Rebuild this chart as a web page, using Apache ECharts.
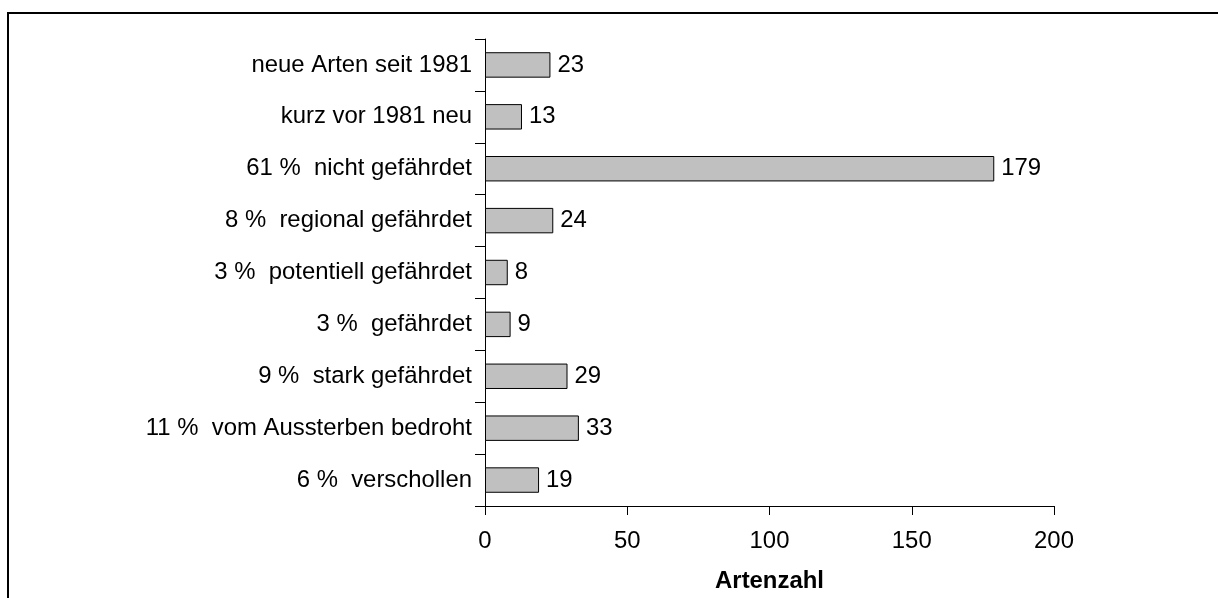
<!DOCTYPE html>
<html>
<head>
<meta charset="utf-8">
<script src="https://cdn.jsdelivr.net/npm/echarts@6/dist/echarts.min.js"></script>
<style>
  html, body { margin: 0; padding: 0; background: #fff; }
  #chart { width: 1218px; height: 598px; }
</style>
</head>
<body>
<div id="chart"></div>
<script>
// categories from top to bottom
const categories = [
    'neue Arten seit 1981',
    'kurz vor 1981 neu',
    '61 %  nicht gefährdet',
    '8 %  regional gefährdet',
    '3 %  potentiell gefährdet',
    '3 %  gefährdet',
    '9 %  stark gefährdet',
    '11 %  vom Aussterben bedroht',
    '6 %  verschollen'
];
const artenzahl = [23, 13, 179, 24, 8, 9, 29, 33, 19];
const xTicks = [0, 50, 100, 150, 200];

const font = '"Liberation Sans", Arial, sans-serif';
const fs = 23.9;

const chart = echarts.init(document.getElementById('chart'));
chart.setOption({
    animation: false,
    backgroundColor: '#fff',
    textStyle: { fontFamily: font },
    // frame: only top and left edges are visible
    graphic: [
        {
            type: 'line',
            shape: { x1: 7, y1: 13, x2: 1218, y2: 13 },
            style: { stroke: '#000', lineWidth: 2 },
            silent: true
        },
        {
            type: 'line',
            shape: { x1: 8, y1: 12, x2: 8, y2: 598 },
            style: { stroke: '#000', lineWidth: 2 },
            silent: true
        }
    ],
    grid: { left: 485, right: 164, top: 39, bottom: 92 },
    xAxis: {
        type: 'value',
        min: xTicks[0],
        max: xTicks[xTicks.length - 1],
        interval: 50,
        name: 'Artenzahl',
        nameLocation: 'middle',
        nameGap: 63,
        nameTextStyle: { fontSize: fs, fontWeight: 'bold', color: '#000', fontFamily: font },
        axisLine: { show: true, lineStyle: { color: '#000', width: 1 } },
        axisTick: { show: true, length: 9, lineStyle: { color: '#000' } },
        axisLabel: { fontSize: fs, color: '#000', margin: 23, fontFamily: font },
        splitLine: { show: false }
    },
    yAxis: {
        type: 'category',
        data: categories,
        inverse: true,
        axisLine: { show: true, lineStyle: { color: '#000', width: 1 } },
        axisTick: { show: true, length: 10, alignWithLabel: false, lineStyle: { color: '#000' } },
        axisLabel: { fontSize: fs, color: '#000', margin: 13, fontFamily: font },
        splitLine: { show: false }
    },
    series: [{
        type: 'bar',
        data: artenzahl,
        barCategoryGap: '51%',
        itemStyle: { color: '#c0c0c0', borderColor: '#000', borderWidth: 1 },
        label: {
            show: true,
            position: 'right',
            distance: 7,
            fontSize: fs,
            color: '#000',
            fontFamily: font
        }
    }]
});
</script>
</body>
</html>
